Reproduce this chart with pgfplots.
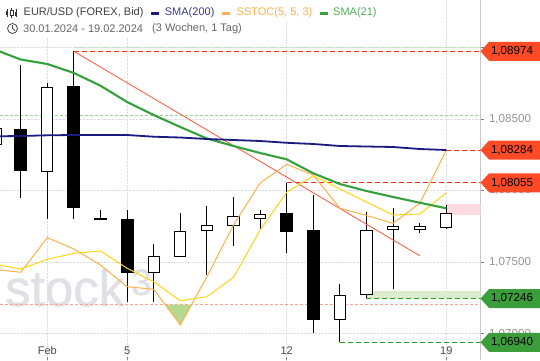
\documentclass[border=0pt]{standalone}
\usepackage{pgfplots}
\pgfplotsset{compat=1.18}
\usepackage{fontspec}
\setmainfont{Liberation Sans}
\definecolor{tagred}{HTML}{FF4A26}
\definecolor{taggreen}{HTML}{3A9E3A}
\definecolor{navyline}{HTML}{1A1A80}
\definecolor{ssto}{HTML}{FFB04A}
\definecolor{yel}{HTML}{FFD414}
\definecolor{smagreen}{HTML}{36A03C}
\definecolor{trend}{HTML}{FF6347}
\definecolor{gridc}{HTML}{DDDDE6}
\definecolor{wmark}{HTML}{E0E0E6}
\definecolor{dashred}{HTML}{FF2A10}
\definecolor{dashgreen}{HTML}{25A52C}
% x low boxlow boxhigh high
\newcommand{\wh}[5]{\pgfmathsetmacro\xa{#1-0.212}\pgfmathsetmacro\xb{#1+0.212}%
  \addplot[black,line width=1pt] coordinates {(#1,#2)(#1,#5)};
  \addplot[draw=black,fill=white,line width=1pt] coordinates {(\xa,#3)(\xb,#3)(\xb,#4)(\xa,#4)} --cycle;}
\newcommand{\bl}[5]{\pgfmathsetmacro\xa{#1-0.244}\pgfmathsetmacro\xb{#1+0.244}%
  \addplot[black,line width=1pt] coordinates {(#1,#2)(#1,#5)};
  \addplot[draw=none,fill=black] coordinates {(\xa,#3)(\xb,#3)(\xb,#4)(\xa,#4)} --cycle;}
\newcommand{\tagbox}[3]{\begin{scope}[shift={(#1)}]
  \fill[#3] (0,0)--(8.5pt,9.5pt)--(60pt,9.5pt)--(60pt,-9.5pt)--(8.5pt,-9.5pt)--cycle;
  \node[black,inner sep=0pt,font=\fontsize{11.6}{12}\selectfont] at (31.5pt,0) {#2};
\end{scope}}
\begin{document}
\begin{tikzpicture}[x=1pt,y=1pt]
\useasboundingbox (0,0) rectangle (540,360);
% watermark
\node[anchor=base west,inner sep=0pt,font=\fontsize{51}{51}\selectfont,color=wmark] at (5,54) {\addfontfeature{FakeBold=1}stock};
\node[anchor=base west,inner sep=0pt,font=\fontsize{37}{37}\selectfont,color=wmark] at (131,65) {\addfontfeature{FakeBold=1}3};
\begin{axis}[
  at={(0,0)},anchor=south west,scale only axis,width=480.5pt,height=360pt,
  xmin=-0.778,xmax=17.286,ymin=1.068163,ymax=1.093326,
  axis x line=bottom,axis y line=right,
  x axis line style={draw=none},
  y axis line style={-,draw=black!22,line width=0.8pt},
  xtick={1,4,10,16},xticklabels={Feb,5,12,19},
  ytick={1.07,1.075,1.08,1.085,1.09},
  yticklabels={{1,07000},{1,07500},{1,08000},{1,08500},{1,09000}},
  grid=major,
  grid style={densely dotted,gridc,line width=0.8pt},
  xtick align=inside,ytick align=outside,
  major tick length=3pt,
  tick style={black!50,line width=0.6pt},
  xticklabel style={font=\fontsize{11}{12}\selectfont,text=black!72,yshift=17pt},
  yticklabel style={font=\fontsize{11.6}{12}\selectfont,text=black!42,xshift=2pt},
  clip=true,
]
% reference lines
\addplot[densely dashed,green!50!gray!60,line width=0.6pt] coordinates {(-0.778,1.085239)(17.286,1.085239)};
\addplot[densely dotted,green!50!gray!40,line width=0.6pt] coordinates {(2,1.09004)(17.286,1.09004)};
\addplot[densely dashed,trend!60,line width=0.7pt] coordinates {(-0.778,1.072041)(17.286,1.072041)};
% bands
\addplot[fill={rgb,255:red,220;green,235;blue,203},draw=none] coordinates {(13,1.072986)(17.286,1.072986)(17.286,1.07246)(13,1.07246)} --cycle;
\addplot[fill={rgb,255:red,255;green,219;blue,225},draw=none] coordinates {(16,1.079067)(17.286,1.079067)(17.286,1.078326)(16,1.078326)} --cycle;
% stoch oversold fill
\addplot[fill={rgb,255:red,182;green,217;blue,144},draw=none] coordinates {(5.425,1.072041)(6,1.07061)(6.44,1.072041)} --cycle;
% candles: x low boxlow boxhigh high
\wh{-0.95}{1.083}{1.083261}{1.084379}{1.0848}
\bl{0}{1.079487}{1.081374}{1.084309}{1.088783}
\wh{1}{1.078019}{1.081339}{1.08721}{1.087525}
\bl{2}{1.078019}{1.078809}{1.087315}{1.08974}
\bl{3}{1.07795}{1.07795}{1.078068}{1.078648}
\bl{4}{1.072239}{1.074265}{1.078019}{1.078648}
\wh{5}{1.072239}{1.074293}{1.075412}{1.076271}
\wh{6}{1.075412}{1.075412}{1.077159}{1.078438}
\wh{7}{1.074105}{1.077229}{1.077578}{1.078927}
\wh{8}{1.076153}{1.077578}{1.078208}{1.079557}
\wh{9}{1.07725}{1.078068}{1.078347}{1.078648}
\bl{10}{1.075621}{1.077131}{1.078417}{1.08055}
\bl{11}{1.070071}{1.07098}{1.07725}{1.079696}
\wh{12}{1.0694}{1.071008}{1.072686}{1.073476}
\wh{13}{1.07246}{1.072756}{1.077229}{1.078487}
\wh{14}{1.073147}{1.077299}{1.077509}{1.078767}
\wh{15}{1.077061}{1.077299}{1.077509}{1.077718}
\wh{16}{1.07732}{1.077439}{1.078417}{1.078997}
% dashed high/low
\addplot[color=dashred,dash pattern=on 5pt off 3pt,line width=1pt] coordinates {(2,1.08974)(17.286,1.08974)};
\addplot[color=dashred,dash pattern=on 5pt off 3pt,line width=1pt] coordinates {(16,1.08284)(17.286,1.08284)};
\addplot[color=dashred,dash pattern=on 5pt off 3pt,line width=1pt] coordinates {(10,1.08055)(17.286,1.08055)};
\addplot[color=dashgreen,dash pattern=on 5pt off 3pt,line width=1pt] coordinates {(13,1.07246)(17.286,1.07246)};
\addplot[color=dashgreen,dash pattern=on 5pt off 3pt,line width=1pt] coordinates {(12,1.0694)(17.286,1.0694)};
% trend line
\addplot[trend,line width=0.9pt] coordinates {(2,1.08974)(15,1.075454)};
% SSTOC
\addplot[ssto,line width=1pt] coordinates {(-1,1.074496)(0,1.074293)(1,1.076712)(2,1.075922)(3,1.074804)(4,1.073287)(5,1.073105)(6,1.07061)(7,1.073986)(8,1.077599)(9,1.080535)(10,1.081842)(11,1.081094)(12,1.078767)(13,1.078263)(14,1.077718)(15,1.079116)(16,1.08284)};
\addplot[yel,line width=1pt] coordinates {(-1,1.074873)(0,1.074524)(1,1.075202)(2,1.075621)(3,1.075782)(4,1.074573)(5,1.073636)(6,1.072308)(7,1.072588)(8,1.073944)(9,1.07725)(10,1.079885)(11,1.081045)(12,1.080116)(13,1.079207)(14,1.078298)(15,1.078368)(16,1.079857)};
% SMA 21
\addplot[smagreen,line width=2.1pt] coordinates {(-1,1.08988)(0,1.089167)(1,1.088853)(2,1.088224)(3,1.087336)(4,1.086197)(5,1.085288)(6,1.084449)(7,1.083645)(8,1.083121)(9,1.082632)(10,1.082191)(11,1.081213)(12,1.080465)(13,1.079976)(14,1.079557)(15,1.079158)(16,1.078767)};
% SMA 200
\addplot[navyline,line width=1.8pt] coordinates {(-1,1.083799)(0,1.08382)(1,1.083869)(2,1.08389)(3,1.08389)(4,1.08389)(5,1.083771)(6,1.083715)(7,1.08361)(8,1.083541)(9,1.083471)(10,1.083345)(11,1.083261)(12,1.083121)(13,1.083086)(14,1.083051)(15,1.082912)(16,1.08284)};
\coordinate (t1) at (axis cs:17.286,1.08974);
\coordinate (t2) at (axis cs:17.286,1.08284);
\coordinate (t3) at (axis cs:17.286,1.08055);
\coordinate (t4) at (axis cs:17.286,1.07246);
\coordinate (t5) at (axis cs:17.286,1.0694);
\end{axis}
% value tags
\tagbox{t1}{1,08974}{tagred}
\tagbox{t2}{1,08284}{tagred}
\tagbox{t3}{1,08055}{tagred}
\tagbox{t4}{1,07246}{taggreen}
\tagbox{t5}{1,06940}{taggreen}
% legend background
\fill[white] (0,323) rectangle (242,360);
\fill[white] (0,340) rectangle (378,360);
% legend row 1
\begin{scope}[black!80,line width=0.9pt]
 \draw (7,351.5)--(7,343); \fill[black!80] (5.6,345.5) rectangle (8.4,349);
 \draw (11.5,352)--(11.5,342.5); \draw[line width=0.7pt,fill=white] (10,344.5) rectangle (13,349.5);
 \draw (16,351.5)--(16,343); \fill[black!80] (14.6,344.5) rectangle (17.4,348);
\end{scope}
\node[anchor=west,inner sep=0pt,text=black!75,font=\fontsize{11}{12}\selectfont] at (23.5,347.3) {EUR/USD (FOREX, Bid)};
\fill[navyline] (151,345.5) rectangle (159,348.5);
\node[anchor=west,inner sep=0pt,text=navyline!85,font=\fontsize{11}{12}\selectfont] at (164.7,347.3) {SMA(200)};
\fill[ssto] (222,345.5) rectangle (230,348.5);
\node[anchor=west,inner sep=0pt,text=ssto,font=\fontsize{11}{12}\selectfont] at (236.5,347.3) {SSTOC(5, 5, 3)};
\fill[smagreen] (320,345.5) rectangle (328,348.5);
\node[anchor=west,inner sep=0pt,text=smagreen!85,font=\fontsize{11}{12}\selectfont] at (333,347.3) {SMA(21)};
% legend row 2
\draw[black!70,line width=0.8pt] (12.5,331.5) circle (5pt);
\draw[black!70,line width=0.8pt] (12.5,335)--(12.5,331.5)--(15,329.5);
\node[anchor=west,inner sep=0pt,text=black!60,font=\fontsize{11}{12}\selectfont] at (23,331.3) {30.01.2024 - 19.02.2024};
\node[anchor=west,inner sep=0pt,text=black!60,font=\fontsize{11}{12}\selectfont] at (152,331.3) {(3 Wochen, 1 Tag)};
\end{tikzpicture}
\end{document}
